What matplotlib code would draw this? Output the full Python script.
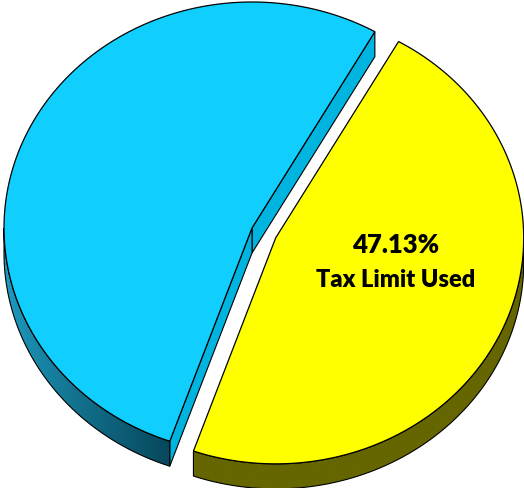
import numpy as np
import matplotlib.pyplot as plt
from matplotlib.patches import Polygon
from matplotlib.colors import to_rgb

# Slice shares (percent) and styling per slice
shares = [52.87, 47.13]
slice_text = [None, "Tax Limit Used"]
top_colors = ["#10CFFF", "#FFFF00"]
cut_colors = ["#00B4E0", "#8C8C00"]
side_light = ["#1FA0C6", "#666600"]
side_dark = ["#07475B", "#666600"]
explode = [0.0, 0.105]

# Projected pie geometry (pixel space)
cx, cy = 252, 228
rx, ry = 248, 226
depth = 25
start_angle = 60.3


def rim(theta, ox, oy):
    t = np.radians(theta)
    return ox + rx * np.cos(t), oy - ry * np.sin(t)


def front_ranges(a0, a1):
    """Angle ranges of [a0, a1] where the outer wall faces the viewer."""
    out = []
    for k in range(-1, 3):
        lo, hi = 180 + 360 * k, 360 + 360 * k
        s, e = max(a0, lo), min(a1, hi)
        if e > s:
            out.append((s, e))
    return out


fig = plt.figure(figsize=(5.24, 4.88), dpi=100)
ax = fig.add_axes([0, 0, 1, 1])
ax.axis("off")

angles = start_angle + np.concatenate([[0], np.cumsum(shares)]) * 3.6
slices = []
for i, share in enumerate(shares):
    a0, a1 = angles[i], angles[i + 1]
    mid = np.radians((a0 + a1) / 2)
    ox = cx + explode[i] * rx * np.cos(mid)
    oy = cy - explode[i] * ry * np.sin(mid)
    slices.append((a0, a1, ox, oy))

# Cut faces that face the viewer
for i, (a0, a1, ox, oy) in enumerate(slices):
    for a, normal in ((a0, a0 - 90), (a1, a1 + 90)):
        if np.sin(np.radians(normal)) < 0:
            x, y = rim(a, ox, oy)
            pts = [(ox, oy), (x, y), (x, y + depth), (ox, oy + depth)]
            ax.add_patch(Polygon(pts, closed=True, facecolor=cut_colors[i],
                                 edgecolor="black", linewidth=0.8, zorder=1))

# Outer walls, shaded left to right with a clipped gradient image
for i, (a0, a1, ox, oy) in enumerate(slices):
    c_light = np.array(to_rgb(side_light[i]))
    c_dark = np.array(to_rgb(side_dark[i]))
    for s, e in front_ranges(a0, a1):
        th = np.linspace(s, e, 200)
        xs, ys = rim(th, ox, oy)
        outline = list(zip(xs, ys)) + list(zip(xs[::-1], ys[::-1] + depth))
        wall = Polygon(outline, closed=True, facecolor="none",
                       edgecolor="black", linewidth=0.8, zorder=3)
        ax.add_patch(wall)
        x_lo, x_hi = xs.min(), xs.max()
        f = np.linspace(0, 1, 256) ** 0.8
        grad = c_light[None, :] * (1 - f[:, None]) + c_dark[None, :] * f[:, None]
        img = ax.imshow(grad[None, :, :], extent=(x_lo - 2, x_hi + 2,
                        ys.max() + depth + 2, ys.min() - 2),
                        aspect="auto", interpolation="bilinear", zorder=2)
        img.set_clip_path(wall)

ax.set_xlim(0, 524)
ax.set_ylim(488, 0)

# Top faces
for i, (a0, a1, ox, oy) in enumerate(slices):
    th = np.linspace(a0, a1, 200)
    xs, ys = rim(th, ox, oy)
    pts = [(ox, oy)] + list(zip(xs, ys))
    ax.add_patch(Polygon(pts, closed=True, facecolor=top_colors[i],
                         edgecolor="black", linewidth=0.9, zorder=4))

# Value label on the exploded slice
a0, a1, ox, oy = slices[1]
tx, ty = ox + 0.485 * rx, oy + 0.10 * ry
ax.text(tx, ty - 15, f"{shares[1]:.2f}%", ha="center", va="center",
        fontsize=18.5, fontweight="heavy", family="Lato", zorder=5)
ax.text(tx, ty + 20, slice_text[1], ha="center", va="center",
        fontsize=17, fontweight="heavy", family="Lato", zorder=5)

fig.savefig("out.png", dpi=100)
